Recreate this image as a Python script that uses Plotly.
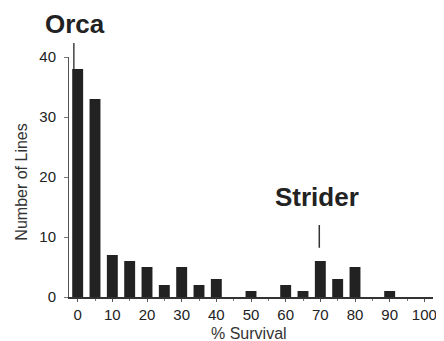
import plotly.graph_objects as go

survival_bins = [0, 5, 10, 15, 20, 25, 30, 35, 40, 45, 50, 55, 60, 65, 70, 75, 80, 85, 90, 95, 100]
num_lines = [38, 33, 7, 6, 5, 2, 5, 2, 3, 0, 1, 0, 2, 1, 6, 3, 5, 0, 1, 0, 0]
x_ticks = [0, 10, 20, 30, 40, 50, 60, 70, 80, 90, 100]
y_ticks = [0, 10, 20, 30, 40]

fig = go.Figure()
fig.add_trace(go.Bar(x=survival_bins, y=num_lines, marker=dict(color="#222222", line=dict(width=0))))

font = "Liberation Sans, Arial, sans-serif"
fig.update_layout(
    width=436, height=333,
    margin=dict(l=61, r=7.5, t=49, b=44),
    paper_bgcolor="white", plot_bgcolor="white",
    bargap=0.37, showlegend=False,
    font=dict(family=font, color="#222222"),
    xaxis=dict(range=[-2.5, 102.5], tickvals=x_ticks, ticktext=[str(v) for v in x_ticks],
               showline=True, linecolor="#333333", linewidth=1.5, ticks="outside", ticklen=3,
               tickcolor="#555555", showgrid=False, zeroline=False,
               tickfont=dict(size=15, family=font, color="#222222"),
               minor=dict(ticks="outside", ticklen=2, dtick=5, tick0=0, tickcolor="#777777")),
    yaxis=dict(range=[0, 40], tickvals=y_ticks, showline=True, linecolor="#555555", linewidth=1,
               ticks="outside", ticklen=4, tickcolor="#777777", showgrid=False, zeroline=False,
               ticklabelstandoff=5,
               tickfont=dict(size=15, family=font, color="#222222")),
    annotations=[
        dict(text="Number of Lines", textangle=-90, xref="paper", yref="paper", x=-0.133, y=0.479,
             xanchor="center", yanchor="middle",
             showarrow=False, font=dict(size=16, family=font, color="#333333")),
        dict(text="% Survival", xref="paper", yref="paper", x=0.494, y=-0.15,
             xanchor="center", yanchor="middle",
             showarrow=False, font=dict(size=16, family=font, color="#333333")),
        dict(text="<b>Orca</b>", xref="paper", yref="paper", x=0.016, y=1.1375,
             xanchor="center", yanchor="middle",
             showarrow=False, font=dict(size=26, family=font, color="#222222")),
        dict(text="<b>Strider</b>", xref="x", yref="y", x=68.9, y=16.7,
             xanchor="center", yanchor="middle",
             showarrow=False, font=dict(size=26, family=font, color="#222222")),
    ],
    shapes=[
        dict(type="line", xref="x", yref="paper", x0=-1.1, x1=-1.1, y0=0.95, y1=1.058,
             line=dict(color="#444444", width=1.5)),
        dict(type="line", xref="x", yref="y", x0=69.7, x1=69.7, y0=8.2, y1=12,
             line=dict(color="#333333", width=1.5)),
    ],
)
fig.write_html("out.html")
